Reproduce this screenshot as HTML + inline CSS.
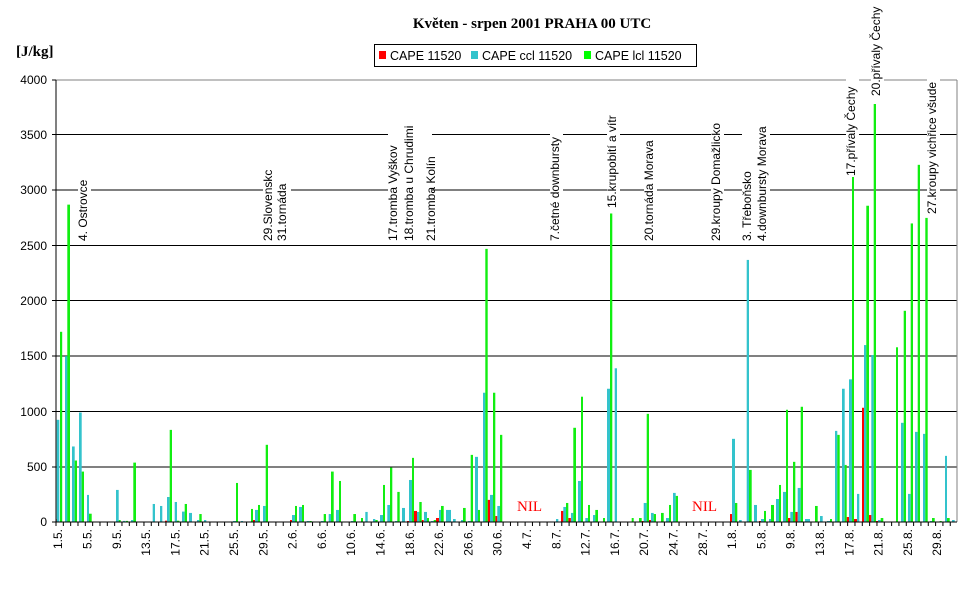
<!DOCTYPE html>
<html><head><meta charset="utf-8"><style>
html,body{margin:0;padding:0;background:#fff;}
svg{display:block;font-family:"Liberation Sans",Arial,sans-serif;}
</style></head><body>
<svg width="972" height="605" viewBox="0 0 972 605" xmlns="http://www.w3.org/2000/svg">
<text x="532" y="28" text-anchor="middle" font-family="Liberation Serif,serif" font-weight="bold" font-size="15">Květen - srpen 2001 PRAHA 00 UTC</text>
<text x="16" y="56" font-family="Liberation Serif,serif" font-weight="bold" font-size="15">[J/kg]</text>
<rect x="374.5" y="44.5" width="322" height="22" fill="#fff" stroke="#000"/>
<rect x="379" y="51" width="7" height="8" fill="#f00"/>
<text x="390" y="60" font-size="12.5">CAPE 11520</text>
<rect x="471" y="51" width="7" height="8" fill="#33c3cc"/>
<text x="482" y="60" font-size="12.5">CAPE ccl 11520</text>
<rect x="584" y="51" width="7" height="8" fill="#0f0"/>
<text x="595" y="60" font-size="12.5">CAPE lcl 11520</text>
<g stroke="#000" stroke-width="1">
<line x1="56" y1="134.5" x2="957" y2="134.5"/><line x1="56" y1="190" x2="957" y2="190"/>
<line x1="56" y1="245.5" x2="957" y2="245.5"/><line x1="56" y1="300.5" x2="957" y2="300.5"/>
<line x1="56" y1="356" x2="957" y2="356"/><line x1="56" y1="411.5" x2="957" y2="411.5"/>
<line x1="56" y1="467" x2="957" y2="467"/>
</g>
<line x1="56" y1="80" x2="957" y2="80" stroke="#808080"/>
<line x1="957" y1="80" x2="957" y2="522" stroke="#808080"/>
<g font-size="12" text-anchor="end">
<text x="47" y="84">4000</text><text x="47" y="139">3500</text><text x="47" y="194">3000</text>
<text x="47" y="250">2500</text><text x="47" y="305">2000</text><text x="47" y="360">1500</text>
<text x="47" y="416">1000</text><text x="47" y="471">500</text><text x="47" y="526">0</text>
</g>
<g stroke="#000"><line x1="52" y1="80" x2="56" y2="80"/><line x1="52" y1="134.5" x2="56" y2="134.5"/><line x1="52" y1="190" x2="56" y2="190"/><line x1="52" y1="245.5" x2="56" y2="245.5"/><line x1="52" y1="300.5" x2="56" y2="300.5"/><line x1="52" y1="356" x2="56" y2="356"/><line x1="52" y1="411.5" x2="56" y2="411.5"/><line x1="52" y1="467" x2="56" y2="467"/><line x1="52" y1="522" x2="56" y2="522"/></g>
<!-- annotations -->
<g font-size="12">
<g transform="translate(87,241) rotate(-90)"><rect x="-1" y="-9" width="64" height="13" fill="#fff"/><text>4. Ostrovce</text></g>
<g transform="translate(272,241) rotate(-90)"><rect x="-1" y="-9" width="78" height="28" fill="#fff"/><text>29.Slovenskc</text><text y="14">31.tornáda</text></g>
<g transform="translate(397,241) rotate(-90)"><rect x="-1" y="-9" width="126" height="44" fill="#fff"/><text>17.tromba Vyškov</text><text y="16">18.tromba u Chrudimi</text><text y="38">21.tromba Kolín</text></g>
<g transform="translate(559,241) rotate(-90)"><rect x="-1" y="-9" width="108" height="13" fill="#fff"/><text>7.četné downbursty</text></g>
<g transform="translate(616,208) rotate(-90)"><rect x="-1" y="-9" width="104" height="13" fill="#fff"/><text>15.krupobití a vítr</text></g>
<g transform="translate(653,241) rotate(-90)"><rect x="-1" y="-9" width="104" height="13" fill="#fff"/><text>20.tornáda Morava</text></g>
<g transform="translate(720,241) rotate(-90)"><rect x="-1" y="-9" width="128" height="13" fill="#fff"/><text>29.kroupy Domažlicko</text></g>
<g transform="translate(751,241) rotate(-90)"><rect x="-1" y="-9" width="120" height="28" fill="#fff"/><text>3. Třeboňsko</text><text y="15">4.downbursty Morava</text></g>
<g transform="translate(855,176) rotate(-90)"><rect x="-1" y="-9" width="98" height="13" fill="#fff"/><text>17.přívaly Čechy</text></g>
<g transform="translate(880,96) rotate(-90)"><rect x="-1" y="-9" width="98" height="13" fill="#fff"/><text>20.přívaly Čechy</text></g>
<g transform="translate(936,214) rotate(-90)"><rect x="-1" y="-9" width="142" height="13" fill="#fff"/><text>27.kroupy vichřice všude</text></g>
</g>
<!-- bars: heights in J/kg -->
<g transform="translate(0,522) scale(1,-0.11058)">
<g fill="#f00">
<rect x="55.5" y="0" width="2" height="27"/><rect x="165" y="0" width="2" height="12"/><rect x="253" y="0" width="2" height="18"/><rect x="290" y="0" width="2" height="18"/><rect x="407" y="0" width="2" height="9"/><rect x="414" y="0" width="3" height="100"/><rect x="421.7" y="0" width="2" height="18"/><rect x="436" y="0" width="3" height="36"/><rect x="487.7" y="0" width="2.4" height="200"/><rect x="495.3" y="0" width="2" height="54"/><rect x="561" y="0" width="2.4" height="100"/><rect x="568.3" y="0" width="2.6" height="36"/><rect x="641.7" y="0" width="2" height="9"/><rect x="649" y="0" width="2" height="18"/><rect x="730" y="0" width="2" height="72"/><rect x="759" y="0" width="2" height="9"/><rect x="788" y="0" width="2.4" height="36"/><rect x="795.3" y="0" width="2.4" height="91"/><rect x="846.7" y="0" width="2.4" height="45"/><rect x="854" y="0" width="3" height="27"/><rect x="862" y="0" width="2" height="1033"/><rect x="869" y="0" width="2.4" height="63"/><rect x="876" y="0" width="2" height="9"/>
</g>
<g fill="#33c3cc">
<rect x="56.7" y="0" width="2.6" height="924"/><rect x="65" y="0" width="2.4" height="1500"/><rect x="72" y="0" width="2.7" height="683"/><rect x="79" y="0" width="2.7" height="990"/><rect x="87" y="0" width="2" height="245"/><rect x="116" y="0" width="2.7" height="290"/><rect x="123" y="0" width="2.5" height="10"/><rect x="131" y="0" width="2.3" height="18"/><rect x="152.7" y="0" width="2.3" height="163"/><rect x="160" y="0" width="2.3" height="145"/><rect x="167" y="0" width="2.7" height="226"/><rect x="174.7" y="0" width="2.3" height="181"/><rect x="182" y="0" width="2.7" height="94"/><rect x="189" y="0" width="3" height="82"/><rect x="197" y="0" width="2.3" height="18"/><rect x="204" y="0" width="2.3" height="18"/><rect x="233" y="0" width="3" height="9"/><rect x="241" y="0" width="2" height="9"/><rect x="255" y="0" width="3" height="109"/><rect x="263" y="0" width="2.7" height="145"/><rect x="292" y="0" width="3" height="63"/><rect x="299" y="0" width="3" height="136"/><rect x="306.7" y="0" width="2.5" height="9"/><rect x="321" y="0" width="2.7" height="9"/><rect x="328.7" y="0" width="2.3" height="72"/><rect x="336" y="0" width="3" height="109"/><rect x="351" y="0" width="2.3" height="9"/><rect x="365.3" y="0" width="2.4" height="91"/><rect x="373" y="0" width="2.3" height="27"/><rect x="380" y="0" width="3" height="63"/><rect x="387.3" y="0" width="2.7" height="154"/><rect x="395" y="0" width="2.3" height="9"/><rect x="402" y="0" width="3" height="127"/><rect x="409" y="0" width="3" height="380"/><rect x="417" y="0" width="2.3" height="91"/><rect x="424" y="0" width="3" height="91"/><rect x="431" y="0" width="2.7" height="9"/><rect x="439" y="0" width="2" height="109"/><rect x="446" y="0" width="5" height="109"/><rect x="453" y="0" width="2.7" height="27"/><rect x="461" y="0" width="2" height="18"/><rect x="468" y="0" width="2.7" height="9"/><rect x="475" y="0" width="3" height="589"/><rect x="483" y="0" width="2.3" height="1169"/><rect x="490" y="0" width="3" height="245"/><rect x="497.3" y="0" width="2.7" height="145"/><rect x="556" y="0" width="2.3" height="27"/><rect x="563.3" y="0" width="2.7" height="136"/><rect x="571" y="0" width="2.3" height="82"/><rect x="578" y="0" width="3" height="371"/><rect x="585.3" y="0" width="2.7" height="36"/><rect x="593" y="0" width="2.3" height="63"/><rect x="607" y="0" width="3" height="1205"/><rect x="614.7" y="0" width="2.3" height="1390"/><rect x="643.7" y="0" width="3" height="172"/><rect x="651" y="0" width="2.7" height="82"/><rect x="666" y="0" width="3" height="36"/><rect x="673" y="0" width="2.7" height="263"/><rect x="732" y="0" width="3" height="752"/><rect x="739" y="0" width="2.7" height="18"/><rect x="746.7" y="0" width="2.3" height="2370"/><rect x="754" y="0" width="3" height="154"/><rect x="761" y="0" width="3" height="27"/><rect x="769" y="0" width="2" height="27"/><rect x="776" y="0" width="3" height="208"/><rect x="783" y="0" width="3" height="272"/><rect x="790.3" y="0" width="2.7" height="91"/><rect x="797.7" y="0" width="3" height="308"/><rect x="805" y="0" width="5" height="27"/><rect x="820" y="0" width="2.7" height="54"/><rect x="827" y="0" width="3" height="9"/><rect x="835" y="0" width="2.3" height="824"/><rect x="842" y="0" width="2.7" height="1205"/><rect x="849" y="0" width="3" height="1290"/><rect x="857" y="0" width="2.3" height="254"/><rect x="864" y="0" width="2.3" height="1600"/><rect x="871.3" y="0" width="2.4" height="1510"/><rect x="878" y="0" width="2.7" height="18"/><rect x="901" y="0" width="2.7" height="897"/><rect x="908" y="0" width="2.7" height="254"/><rect x="915" y="0" width="2.7" height="815"/><rect x="923" y="0" width="2.3" height="797"/><rect x="930" y="0" width="2.3" height="9"/><rect x="945" y="0" width="2" height="598"/><rect x="952" y="0" width="2.7" height="18"/>
</g>
<g fill="#11ee11">
<rect x="60" y="0" width="2.2" height="1720"/><rect x="67.3" y="0" width="2.7" height="2870"/><rect x="74.7" y="0" width="2.3" height="556"/><rect x="81.7" y="0" width="2.3" height="456"/><rect x="89" y="0" width="2.7" height="75"/><rect x="118.7" y="0" width="2" height="18"/><rect x="126" y="0" width="2" height="10"/><rect x="133.3" y="0" width="2.7" height="537"/><rect x="169.7" y="0" width="2.3" height="833"/><rect x="177" y="0" width="2.3" height="12"/><rect x="184.7" y="0" width="2.3" height="163"/><rect x="199.3" y="0" width="2.4" height="72"/><rect x="236" y="0" width="2" height="353"/><rect x="251" y="0" width="2" height="118"/><rect x="258" y="0" width="2" height="154"/><rect x="265.7" y="0" width="2.3" height="698"/><rect x="295" y="0" width="2" height="145"/><rect x="302" y="0" width="2" height="154"/><rect x="309.5" y="0" width="2.2" height="9"/><rect x="323.7" y="0" width="2.3" height="72"/><rect x="331" y="0" width="2.7" height="456"/><rect x="339" y="0" width="2" height="371"/><rect x="353.3" y="0" width="2.7" height="72"/><rect x="361" y="0" width="2" height="36"/><rect x="375.3" y="0" width="2.4" height="18"/><rect x="383" y="0" width="2" height="335"/><rect x="390" y="0" width="2.3" height="492"/><rect x="397.3" y="0" width="2.4" height="272"/><rect x="412" y="0" width="2" height="580"/><rect x="419.3" y="0" width="2.4" height="181"/><rect x="427" y="0" width="2" height="36"/><rect x="433.7" y="0" width="2.3" height="18"/><rect x="441" y="0" width="2.7" height="145"/><rect x="463" y="0" width="2.7" height="127"/><rect x="470.7" y="0" width="2.3" height="607"/><rect x="478" y="0" width="2" height="109"/><rect x="485.3" y="0" width="2.4" height="2470"/><rect x="493" y="0" width="2.3" height="1169"/><rect x="500" y="0" width="2.3" height="788"/><rect x="566" y="0" width="2.3" height="172"/><rect x="573.3" y="0" width="2.7" height="852"/><rect x="581" y="0" width="2" height="1133"/><rect x="588" y="0" width="2" height="154"/><rect x="595.3" y="0" width="2.7" height="109"/><rect x="603" y="0" width="2" height="36"/><rect x="610" y="0" width="2.3" height="2790"/><rect x="631.7" y="0" width="2" height="36"/><rect x="639" y="0" width="2.7" height="36"/><rect x="646.7" y="0" width="2.3" height="978"/><rect x="653.7" y="0" width="2.3" height="72"/><rect x="661" y="0" width="2.7" height="82"/><rect x="669" y="0" width="2" height="154"/><rect x="675.7" y="0" width="2.3" height="236"/><rect x="735" y="0" width="2.3" height="172"/><rect x="749" y="0" width="2.7" height="471"/><rect x="764" y="0" width="2" height="100"/><rect x="771" y="0" width="3" height="154"/><rect x="779" y="0" width="2" height="335"/><rect x="786" y="0" width="2" height="1015"/><rect x="793" y="0" width="2.3" height="544"/><rect x="800.7" y="0" width="2.3" height="1042"/><rect x="815" y="0" width="2.7" height="145"/><rect x="830" y="0" width="2" height="27"/><rect x="837.3" y="0" width="2.4" height="788"/><rect x="844.7" y="0" width="2" height="516"/><rect x="852" y="0" width="2" height="3120"/><rect x="866.3" y="0" width="2.7" height="2860"/><rect x="873.7" y="0" width="2.3" height="3780"/><rect x="880.7" y="0" width="2.6" height="36"/><rect x="896" y="0" width="2" height="1580"/><rect x="903.7" y="0" width="2.3" height="1910"/><rect x="910.7" y="0" width="2.3" height="2700"/><rect x="917.7" y="0" width="2.3" height="3230"/><rect x="925.3" y="0" width="2.4" height="2750"/><rect x="932" y="0" width="2.7" height="36"/><rect x="939.7" y="0" width="2" height="9"/><rect x="947" y="0" width="2.7" height="36"/>
</g>
</g>
<line x1="56" y1="80" x2="56" y2="522" stroke="#000"/>
<line x1="56" y1="522" x2="957" y2="522" stroke="#000"/>
<g id="ticks" stroke="#000"></g>
<path stroke="#000" fill="none" d="M56,522v4M63.33,522v4M70.66,522v4M77.99,522v4M85.32,522v4M92.65,522v4M99.98,522v4M107.31,522v4M114.64,522v4M121.97,522v4M129.3,522v4M136.63,522v4M143.96,522v4M151.29,522v4M158.62,522v4M165.95,522v4M173.28,522v4M180.61,522v4M187.94,522v4M195.27,522v4M202.6,522v4M209.93,522v4M217.26,522v4M224.59,522v4M231.92,522v4M239.25,522v4M246.58,522v4M253.91,522v4M261.24,522v4M268.57,522v4M275.9,522v4M283.23,522v4M290.56,522v4M297.89,522v4M305.22,522v4M312.55,522v4M319.88,522v4M327.21,522v4M334.54,522v4M341.87,522v4M349.2,522v4M356.53,522v4M363.86,522v4M371.19,522v4M378.52,522v4M385.85,522v4M393.18,522v4M400.51,522v4M407.84,522v4M415.17,522v4M422.5,522v4M429.83,522v4M437.16,522v4M444.49,522v4M451.82,522v4M459.15,522v4M466.48,522v4M473.81,522v4M481.14,522v4M488.47,522v4M495.8,522v4M503.13,522v4M510.46,522v4M517.79,522v4M525.12,522v4M532.45,522v4M539.78,522v4M547.11,522v4M554.44,522v4M561.77,522v4M569.1,522v4M576.43,522v4M583.76,522v4M591.09,522v4M598.42,522v4M605.75,522v4M613.08,522v4M620.41,522v4M627.74,522v4M635.07,522v4M642.4,522v4M649.73,522v4M657.06,522v4M664.39,522v4M671.72,522v4M679.05,522v4M686.38,522v4M693.71,522v4M701.04,522v4M708.37,522v4M715.7,522v4M723.03,522v4M730.36,522v4M737.69,522v4M745.02,522v4M752.35,522v4M759.68,522v4M767.01,522v4M774.34,522v4M781.67,522v4M789,522v4M796.33,522v4M803.66,522v4M810.99,522v4M818.32,522v4M825.65,522v4M832.98,522v4M840.31,522v4M847.64,522v4M854.97,522v4M862.3,522v4M869.63,522v4M876.96,522v4M884.29,522v4M891.62,522v4M898.95,522v4M906.28,522v4M913.61,522v4M920.94,522v4M928.27,522v4M935.6,522v4M942.93,522v4M950.26,522v4"/>
<g font-size="12" text-anchor="end">
<text transform="translate(62,529) rotate(-90)">1.5.</text>
<text transform="translate(91.5,529) rotate(-90)">5.5.</text>
<text transform="translate(120.8,529) rotate(-90)">9.5.</text>
<text transform="translate(150.1,529) rotate(-90)">13.5.</text>
<text transform="translate(179.4,529) rotate(-90)">17.5.</text>
<text transform="translate(208.7,529) rotate(-90)">21.5.</text>
<text transform="translate(238,529) rotate(-90)">25.5.</text>
<text transform="translate(267.3,529) rotate(-90)">29.5.</text>
<text transform="translate(296.6,529) rotate(-90)">2.6.</text>
<text transform="translate(325.9,529) rotate(-90)">6.6.</text>
<text transform="translate(355.2,529) rotate(-90)">10.6.</text>
<text transform="translate(384.5,529) rotate(-90)">14.6.</text>
<text transform="translate(413.8,529) rotate(-90)">18.6.</text>
<text transform="translate(443.1,529) rotate(-90)">22.6.</text>
<text transform="translate(472.4,529) rotate(-90)">26.6.</text>
<text transform="translate(501.7,529) rotate(-90)">30.6.</text>
<text transform="translate(531,529) rotate(-90)">4.7.</text>
<text transform="translate(560.3,529) rotate(-90)">8.7.</text>
<text transform="translate(589.6,529) rotate(-90)">12.7.</text>
<text transform="translate(618.9,529) rotate(-90)">16.7.</text>
<text transform="translate(648.2,529) rotate(-90)">20.7.</text>
<text transform="translate(677.5,529) rotate(-90)">24.7.</text>
<text transform="translate(706.8,529) rotate(-90)">28.7.</text>
<text transform="translate(736.1,529) rotate(-90)">1.8.</text>
<text transform="translate(765.4,529) rotate(-90)">5.8.</text>
<text transform="translate(794.7,529) rotate(-90)">9.8.</text>
<text transform="translate(824,529) rotate(-90)">13.8.</text>
<text transform="translate(853.3,529) rotate(-90)">17.8.</text>
<text transform="translate(882.6,529) rotate(-90)">21.8.</text>
<text transform="translate(911.9,529) rotate(-90)">25.8.</text>
<text transform="translate(941.2,529) rotate(-90)">29.8.</text>
</g>
<text x="517" y="511" fill="#f00" font-family="Liberation Serif,serif" font-size="15">NIL</text>
<text x="692" y="511" fill="#f00" font-family="Liberation Serif,serif" font-size="15">NIL</text>
</svg>
</body></html>
